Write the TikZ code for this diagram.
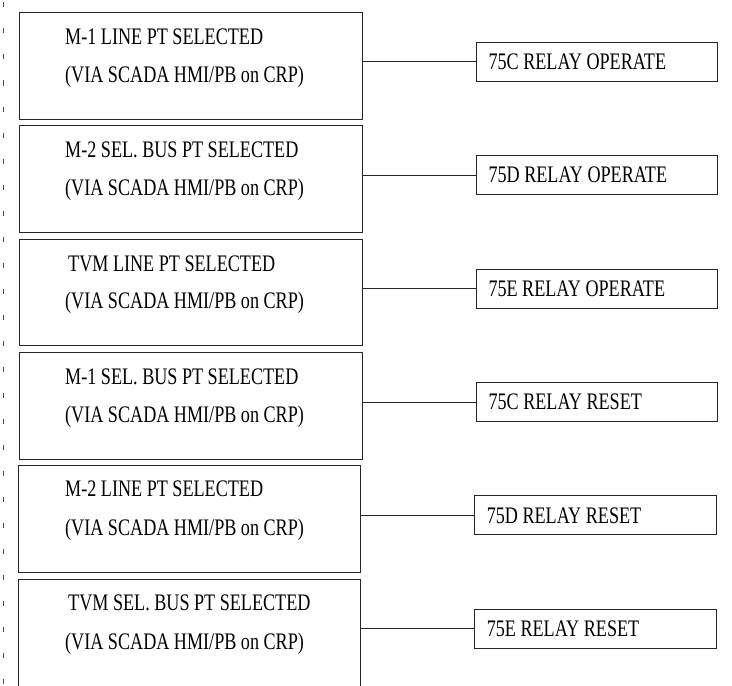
\documentclass[tikz,border=0pt]{standalone}
\usepackage{fontspec}
\setmainfont[FakeStretch=0.765]{Liberation Serif}
\begin{document}
\begin{tikzpicture}[x=1bp,y=-1bp,
  lbox/.style={draw=black!85, line width=1bp, rectangle, inner sep=0pt, minimum width=342.7bp},
  rbox/.style={draw=black!85, line width=1bp, rectangle, inner sep=0pt,
               minimum width=241.7bp, minimum height=39bp},
  txt/.style={anchor=base west, inner sep=0pt, font=\fontsize{23.7bp}{28bp}\selectfont},
  conn/.style={draw=black!85, line width=1bp},
  dashline/.style={draw=black!70, line width=1bp, dash pattern=on 5bp off 21bp}]
\useasboundingbox (0,0) rectangle (732,686);
\clip (0,0) rectangle (732,686);

% dashed margin line
\coordinate (dtop) at (3.5,2.5);
\coordinate (dbot) at (3.5,686);
\draw[dashline] (dtop) -- (dbot);

% left boxes
\node[lbox, minimum height=106.7bp] (L1) at (191.35,65.65) {};
\node[lbox, minimum height=107bp]   (L2) at (191.35,178.8) {};
\node[lbox, minimum height=106.7bp] (L3) at (191.35,292.35) {};
\node[lbox, minimum height=106.7bp] (L4) at (191.35,405.65) {};
\node[lbox, minimum height=107bp]   (L5) at (189.5,519.2) {};
\node[lbox, minimum height=140bp]   (L6) at (189.5,649) {};

% left texts
\node[txt] (T1a) at (65,44.5)  {M-1 LINE PT SELECTED};
\node[txt] (T1b) at (65,82.8)  {(VIA SCADA HMI/PB on CRP)};
\node[txt] (T2a) at (65,157.8) {M-2 SEL. BUS PT SELECTED};
\node[txt] (T2b) at (65,195.8) {(VIA SCADA HMI/PB on CRP)};
\node[txt] (T3a) at (68,271.1) {TVM LINE PT SELECTED};
\node[txt] (T3b) at (65,308.5) {(VIA SCADA HMI/PB on CRP)};
\node[txt] (T4a) at (65,384.5) {M-1 SEL. BUS PT SELECTED};
\node[txt] (T4b) at (65,422.8) {(VIA SCADA HMI/PB on CRP)};
\node[txt] (T5a) at (65,496.8) {M-2 LINE PT SELECTED};
\node[txt] (T5b) at (65,535.8) {(VIA SCADA HMI/PB on CRP)};
\node[txt] (T6a) at (68,610.8) {TVM SEL. BUS PT SELECTED};
\node[txt] (T6b) at (65,649.5) {(VIA SCADA HMI/PB on CRP)};

% right boxes
\node[rbox] (R1) at (596.85,61.65)  {};
\node[rbox] (R2) at (596.85,175)    {};
\node[rbox] (R3) at (596.85,288.8)  {};
\node[rbox] (R4) at (596.85,402)    {};
\node[rbox] (R5) at (595.15,515.35) {};
\node[rbox] (R6) at (595.15,628.8)  {};

% right texts
\node[txt] (S1) at (488.3,69.4)  {75C RELAY OPERATE};
\node[txt] (S2) at (488.3,182.8) {75D RELAY OPERATE};
\node[txt] (S3) at (488.3,296.6) {75E RELAY OPERATE};
\node[txt] (S4) at (488.3,409.8) {75C RELAY RESET};
\node[txt] (S5) at (486.6,523.1) {75D RELAY RESET};
\node[txt] (S6) at (486.6,636.6) {75E RELAY RESET};

% connectors
\foreach \i in {1,...,6}{
  \draw[conn] (R\i.west) -- (R\i.west -| L\i.east);
}
\end{tikzpicture}
\end{document}
